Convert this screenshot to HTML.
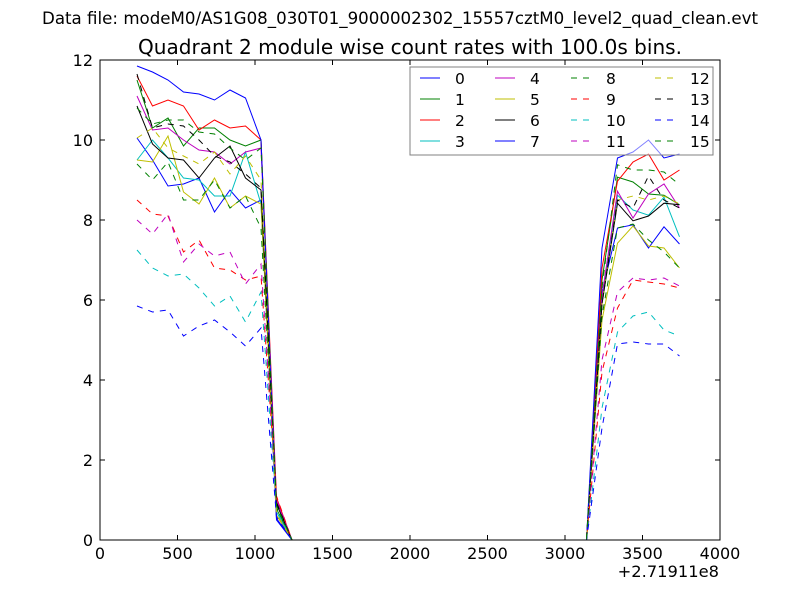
<!DOCTYPE html>
<html><head><meta charset="utf-8"><style>
body{margin:0;background:#fff;font-family:"Liberation Sans","DejaVu Sans",sans-serif}
</style></head><body>
<svg id="s" width="800" height="600" xmlns="http://www.w3.org/2000/svg" font-family="DejaVu Sans, Liberation Sans, sans-serif">
<rect width="800" height="600" fill="#fff"/>
<text x="400" y="24" font-size="16.5" text-anchor="middle" textLength="716" lengthAdjust="spacingAndGlyphs">Data file: modeM0/AS1G08_030T01_9000002302_15557cztM0_level2_quad_clean.evt</text>
<text x="410" y="54" font-size="20" text-anchor="middle" textLength="544" lengthAdjust="spacingAndGlyphs">Quadrant 2 module wise count rates with 100.0s bins.</text>
<g id="lines"></g>
<g id="leg"></g>
<rect x="100" y="60" width="620" height="480" fill="none" stroke="#000" stroke-width="1"/>
<g id="ticks" font-size="16"></g>
<text x="719" y="577" font-size="16.3" text-anchor="end">+2.71911e8</text>
</svg>
<script>
const C=['#0000ff','#008000','#ff0000','#00bfbf','#bf00bf','#bfbf00','#000000'];
const L=[
[10.05,9.5,8.85,8.9,9.05,8.2,8.75,8.3,8.5],
[11.5,10.3,10.55,9.85,10.3,10.3,10.0,9.85,10.0],
[11.6,10.85,11.0,10.85,10.25,10.5,10.3,10.35,10.0],
[9.5,10.0,9.55,9.05,9.0,8.6,8.6,9.7,8.4],
[11.1,10.25,10.3,10.0,9.75,9.7,9.4,9.7,9.8],
[9.5,9.45,10.1,8.7,8.4,9.05,8.3,8.6,8.4],
[10.85,9.9,9.55,9.5,9.05,9.55,9.85,9.05,8.75],
[11.85,11.7,11.5,11.2,11.15,11.0,11.25,11.05,10.0],
[9.4,9.0,9.45,8.5,8.5,9.0,8.3,8.6,7.8],
[8.5,8.15,8.1,7.2,7.5,6.8,6.75,6.5,6.6],
[7.25,6.8,6.6,6.65,6.3,5.85,6.1,5.45,6.2],
[8.0,7.65,8.15,6.95,7.4,7.1,7.2,6.4,6.9],
[10.05,10.3,9.8,9.6,9.4,9.7,9.15,9.6,9.0],
[11.65,10.3,10.4,10.35,10.0,9.6,9.45,9.15,8.8],
[5.85,5.7,5.75,5.1,5.35,5.5,5.2,4.85,5.3],
[10.8,10.4,10.5,10.5,10.2,10.15,9.8,9.5,9.8]];
const R=[
[6.2,7.8,7.88,7.3,7.83,7.4],
[6.5,9.07,8.95,8.65,8.62,8.38],
[6.8,8.97,9.45,9.65,9.0,9.25],
[6.0,8.62,8.25,8.12,8.57,7.58],
[6.1,8.72,8.05,8.65,8.9,8.3],
[5.5,7.42,7.85,7.35,7.3,6.8],
[5.9,8.42,7.98,8.1,8.42,8.38],
[7.3,9.55,9.7,10.0,9.55,9.65],
[5.6,7.8,7.9,7.5,7.2,6.8],
[4.2,5.8,6.5,6.45,6.4,6.3],
[3.3,5.2,5.6,5.7,5.25,5.1],
[4.5,6.2,6.55,6.5,6.55,6.35],
[5.9,8.5,8.6,8.5,8.6,8.4],
[5.9,8.5,8.3,9.1,8.5,8.3],
[2.8,4.9,4.95,4.9,4.9,4.6],
[6.3,9.38,9.25,9.25,9.2,8.88]];
const px=x=>100+x*0.155, py=v=>540-40*v;
let h='';
for(let i=0;i<16;i++){
 let pts=[];
 L[i].forEach((v,k)=>pts.push([239+100*k,v]));
 pts.push([1139,0.5+0.04*((i*7)%16)]);
 for(let x=1239;x<=3139;x+=100)pts.push([x,0]);
 R[i].forEach((v,k)=>pts.push([3239+100*k,v]));
 const d=pts.map(p=>px(p[0]).toFixed(1)+','+py(p[1]).toFixed(1)).join(' ');
 h+=`<polyline points="${d}" fill="none" stroke="${C[i%7]}" stroke-width="1" ${i>=8?'stroke-dasharray="6,6"':''}/>`;
}
document.getElementById('lines').innerHTML=h;
let g='<rect x="410" y="67" width="303" height="88" fill="#fff" fill-opacity="0.5" stroke="#808080" stroke-width="1"/>';
const cx=[420,495,571,655], tx=[455,530,606,690];
for(let i=0;i<16;i++){const c=Math.floor(i/4),r=i%4,y=78+r*21;
 g+=`<line x1="${cx[c]}" y1="${y}" x2="${cx[c]+20}" y2="${y}" stroke="${C[i%7]}" ${i>=8?'stroke-dasharray="6,6"':''}/>`;
 g+=`<text x="${tx[c]}" y="${y+6}" font-size="15.5">${i}</text>`;}
document.getElementById('leg').innerHTML=g;
let t='';
for(let k=0;k<=8;k++){const x=100+k*77.5;
 t+=`<line x1="${x}" y1="540" x2="${x}" y2="535" stroke="#000"/><line x1="${x}" y1="60" x2="${x}" y2="65" stroke="#000"/>`;
 t+=`<text x="${x}" y="559" text-anchor="middle">${k*500}</text>`;}
for(let k=0;k<=6;k++){const y=540-k*80;
 t+=`<line x1="100" y1="${y}" x2="105" y2="${y}" stroke="#000"/><line x1="720" y1="${y}" x2="715" y2="${y}" stroke="#000"/>`;
 t+=`<text x="93" y="${y+6}" text-anchor="end">${k*2}</text>`;}
document.getElementById('ticks').innerHTML=t;
</script>
</body></html>
